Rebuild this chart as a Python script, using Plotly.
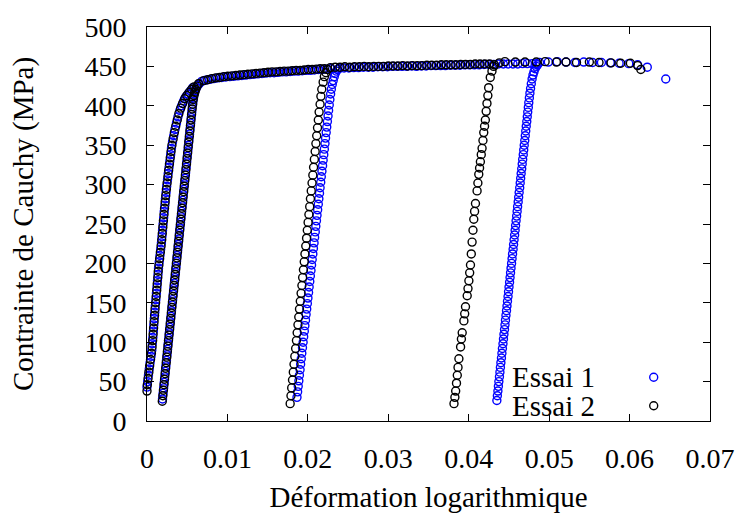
import plotly.graph_objects as go

# ---------------- Essai 1 (blue) : strain / stress pairs per branch ----------------
e1_load_strain = [0.00000, 0.00008, 0.00018, 0.00028, 0.00038, 0.00050, 0.00060, 0.00066, 0.00073, 0.00079,
                  0.00085, 0.00091, 0.00097, 0.00103, 0.00110, 0.00117, 0.00124, 0.00130, 0.00137, 0.00143,
                  0.00152, 0.00161, 0.00170, 0.00179, 0.00186, 0.00193, 0.00200, 0.00207, 0.00214, 0.00222,
                  0.00229, 0.00237, 0.00245, 0.00255, 0.00264, 0.00274, 0.00284, 0.00294, 0.00304, 0.00317,
                  0.00332, 0.00348, 0.00366, 0.00385, 0.00408, 0.00430, 0.00455, 0.00480, 0.00509, 0.00540,
                  0.00570]
e1_load_stress = [43, 50, 58, 66, 74, 82, 90, 98, 106, 114,
                  122, 130, 138, 146, 154, 162, 170, 178, 186, 194,
                  202, 210, 218, 226, 234, 242, 250, 258, 266, 274,
                  282, 290, 298, 306, 314, 322, 330, 338, 346, 354,
                  362, 370, 378, 386, 394, 400, 406, 411, 415, 419,
                  423]

e1_cyc1_strain = [0.00193, 0.00200, 0.00207, 0.00214, 0.00221, 0.00228, 0.00235, 0.00242, 0.00249, 0.00256,
                  0.00263, 0.00270, 0.00277, 0.00284, 0.00291, 0.00298, 0.00305, 0.00312, 0.00319, 0.00326,
                  0.00333, 0.00340, 0.00347, 0.00354, 0.00361, 0.00368, 0.00375, 0.00382, 0.00389, 0.00396,
                  0.00403, 0.00410, 0.00417, 0.00424, 0.00431, 0.00438, 0.00445, 0.00452, 0.00459, 0.00466,
                  0.00473, 0.00480, 0.00487, 0.00494, 0.00501, 0.00508, 0.00515, 0.00522, 0.00529, 0.00536,
                  0.00543, 0.00550, 0.00557, 0.00564, 0.00571, 0.00578, 0.00588, 0.00600, 0.00615, 0.00632,
                  0.00650]
e1_cyc1_stress = [28, 35, 42, 49, 56, 63, 70, 77, 84, 91,
                  98, 105, 112, 119, 126, 133, 140, 147, 154, 161,
                  168, 175, 182, 189, 196, 203, 210, 217, 224, 231,
                  238, 245, 252, 259, 266, 273, 280, 287, 294, 301,
                  308, 315, 322, 329, 336, 343, 350, 357, 364, 371,
                  378, 385, 392, 399, 405, 410, 415, 419, 423, 426,
                  428]

e1_flow1_strain = [0.0068, 0.0073, 0.0078, 0.0083, 0.0088, 0.0093, 0.0098, 0.0103, 0.0108, 0.0113,
                   0.0118, 0.0123, 0.0128, 0.0133, 0.0138, 0.0143, 0.0148, 0.0153, 0.0158, 0.0163,
                   0.0168, 0.0173, 0.0178, 0.0183, 0.0188, 0.0193, 0.0198, 0.0203, 0.0208, 0.0213,
                   0.0218, 0.0223, 0.0228]
e1_flow1_stress = [431, 432.5, 433.5, 434.5, 435.5, 436, 436.5, 437, 437.5, 438,
                   438.5, 439, 439.5, 440, 440.5, 441, 441.5, 442, 442, 442.5,
                   443, 443, 443.5, 444, 444, 444.5, 445, 445, 445.5, 446,
                   446, 446.5, 447]

e1_cyc2_strain = [0.01865, 0.01873, 0.01880, 0.01888, 0.01895, 0.01903, 0.01910, 0.01918, 0.01925, 0.01933,
                  0.01941, 0.01948, 0.01956, 0.01963, 0.01971, 0.01978, 0.01986, 0.01994, 0.02001, 0.02009,
                  0.02016, 0.02024, 0.02031, 0.02039, 0.02046, 0.02054, 0.02062, 0.02069, 0.02077, 0.02084,
                  0.02092, 0.02099, 0.02107, 0.02114, 0.02122, 0.02130, 0.02137, 0.02145, 0.02152, 0.02160,
                  0.02167, 0.02175, 0.02183, 0.02190, 0.02198, 0.02205, 0.02213, 0.02220, 0.02228, 0.02235,
                  0.02243, 0.02251, 0.02258, 0.02266, 0.02274, 0.02283, 0.02292, 0.02303, 0.02315, 0.02328,
                  0.02340, 0.02355, 0.02370]
e1_cyc2_stress = [30, 37, 44, 51, 58, 65, 72, 79, 86, 93,
                  100, 107, 114, 121, 128, 135, 142, 149, 156, 163,
                  170, 177, 184, 191, 198, 205, 212, 219, 226, 233,
                  240, 247, 254, 261, 268, 275, 282, 289, 296, 303,
                  310, 317, 324, 331, 338, 345, 352, 359, 366, 373,
                  380, 387, 394, 401, 408, 415, 421, 427, 432, 437,
                  441, 444, 446]

e1_flow2_strain = [0.0239, 0.0245, 0.0251, 0.0257, 0.0263, 0.0269, 0.0275, 0.0281, 0.0287, 0.0293,
                   0.0299, 0.0305, 0.0311, 0.0317, 0.0323, 0.0329, 0.0335, 0.0341, 0.0347, 0.0353,
                   0.0359, 0.0365, 0.0371, 0.0377, 0.0383, 0.0389, 0.0395, 0.0401, 0.0407, 0.0413,
                   0.0419, 0.0425, 0.0431, 0.0437, 0.0443, 0.0449, 0.0455, 0.0461, 0.0467, 0.0473,
                   0.0479, 0.0484]
e1_flow2_stress = [447.5, 448, 448, 448.5, 448.5, 449, 449, 449, 449.5, 449.5,
                   449.5, 450, 450, 450, 450, 450.5, 450, 450.5, 450.5, 451,
                   451, 451, 451, 451.5, 451.5, 451.5, 452, 452, 452, 452,
                   452.5, 452.5, 452.5, 453, 453, 453, 453, 453, 453.5, 453.5,
                   453.5, 453.5]

e1_cyc3_strain = [0.04350, 0.04356, 0.04363, 0.04369, 0.04375, 0.04382, 0.04388, 0.04394, 0.04400, 0.04407,
                  0.04413, 0.04419, 0.04426, 0.04432, 0.04438, 0.04445, 0.04451, 0.04457, 0.04463, 0.04470,
                  0.04476, 0.04482, 0.04489, 0.04495, 0.04501, 0.04508, 0.04514, 0.04520, 0.04526, 0.04533,
                  0.04539, 0.04545, 0.04552, 0.04558, 0.04564, 0.04571, 0.04577, 0.04583, 0.04589, 0.04596,
                  0.04602, 0.04608, 0.04615, 0.04621, 0.04627, 0.04634, 0.04640, 0.04646, 0.04652, 0.04659,
                  0.04665, 0.04671, 0.04678, 0.04684, 0.04690, 0.04697, 0.04703, 0.04709, 0.04715, 0.04722,
                  0.04728, 0.04734, 0.04741, 0.04747, 0.04754, 0.04761, 0.04769, 0.04778, 0.04788, 0.04799,
                  0.04811, 0.04825, 0.04840, 0.04856]
e1_cyc3_stress = [26, 32, 38, 44, 50, 56, 62, 68, 74, 80,
                  86, 92, 98, 104, 110, 116, 122, 128, 134, 140,
                  146, 152, 158, 164, 170, 176, 182, 188, 194, 200,
                  206, 212, 218, 224, 230, 236, 242, 248, 254, 260,
                  266, 272, 278, 284, 290, 296, 302, 308, 314, 320,
                  326, 332, 338, 344, 350, 356, 362, 368, 374, 380,
                  386, 392, 398, 404, 410, 416, 422, 428, 434, 439,
                  443, 447, 450, 452]

e1_flow3_strain = [0.0488, 0.0499, 0.0510, 0.0521, 0.0532, 0.0543, 0.0554, 0.0565, 0.0576, 0.0587,
                   0.0599, 0.0610, 0.0622, 0.0645]
e1_flow3_stress = [455, 455.5, 456, 455.5, 455, 455.5, 455, 455, 454.5, 454,
                   453.5, 452, 449, 434]

# ---------------- Essai 2 (black) ----------------
e2_load_strain = [0.00000, 0.00004, 0.00013, 0.00023, 0.00033, 0.00044, 0.00055, 0.00063, 0.00070, 0.00076,
                  0.00082, 0.00088, 0.00094, 0.00100, 0.00107, 0.00114, 0.00121, 0.00127, 0.00134, 0.00140,
                  0.00148, 0.00157, 0.00166, 0.00175, 0.00183, 0.00190, 0.00197, 0.00204, 0.00211, 0.00218,
                  0.00226, 0.00233, 0.00241, 0.00250, 0.00260, 0.00269, 0.00279, 0.00289, 0.00299, 0.00310,
                  0.00325, 0.00340, 0.00357, 0.00376, 0.00396, 0.00419, 0.00443, 0.00468, 0.00495, 0.00525,
                  0.00555, 0.00585]
e2_load_stress = [38, 46, 54, 62, 70, 78, 86, 94, 102, 110,
                  118, 126, 134, 142, 150, 158, 166, 174, 182, 190,
                  198, 206, 214, 222, 230, 238, 246, 254, 262, 270,
                  278, 286, 294, 302, 310, 318, 326, 334, 342, 350,
                  358, 366, 374, 382, 390, 397, 403, 409, 413, 417,
                  421, 424]

e2_cyc1_strain = [0.00190, 0.00197, 0.00204, 0.00211, 0.00218, 0.00225, 0.00232, 0.00239, 0.00246, 0.00253,
                  0.00260, 0.00267, 0.00274, 0.00281, 0.00288, 0.00295, 0.00302, 0.00309, 0.00316, 0.00323,
                  0.00330, 0.00337, 0.00344, 0.00351, 0.00358, 0.00365, 0.00372, 0.00379, 0.00386, 0.00393,
                  0.00400, 0.00407, 0.00414, 0.00421, 0.00428, 0.00435, 0.00442, 0.00449, 0.00456, 0.00463,
                  0.00470, 0.00477, 0.00484, 0.00491, 0.00498, 0.00505, 0.00512, 0.00519, 0.00526, 0.00533,
                  0.00540, 0.00547, 0.00554, 0.00561, 0.00568, 0.00575, 0.00584, 0.00594, 0.00607, 0.00622,
                  0.00640]
e2_cyc1_stress = [25, 32, 39, 46, 53, 60, 67, 74, 81, 88,
                  95, 102, 109, 116, 123, 130, 137, 144, 151, 158,
                  165, 172, 179, 186, 193, 200, 207, 214, 221, 228,
                  235, 242, 249, 256, 263, 270, 277, 284, 291, 298,
                  305, 312, 319, 326, 333, 340, 347, 354, 361, 368,
                  375, 382, 389, 396, 402, 408, 413, 417, 421, 425,
                  428]

e2_flow1_strain = [0.00705, 0.00755, 0.00805, 0.00855, 0.00905, 0.00955, 0.01005, 0.01055, 0.01105, 0.01155,
                   0.01205, 0.01255, 0.01305, 0.01355, 0.01405, 0.01455, 0.01505, 0.01555, 0.01605, 0.01655,
                   0.01705, 0.01755, 0.01805, 0.01855, 0.01905, 0.01955, 0.02005, 0.02055, 0.02105, 0.02155,
                   0.02205]
e2_flow1_stress = [432, 433, 434.5, 435.5, 436, 437, 437.5, 438, 438.5, 439,
                   439.5, 440, 440.5, 441, 441.5, 442, 442.5, 443, 443, 443.5,
                   444, 444, 444.5, 445, 445, 445.5, 446, 446, 446.5, 447,
                   447]

e2_cyc2_strain = [0.01780, 0.01790, 0.01799, 0.01809, 0.01819, 0.01828, 0.01838, 0.01848, 0.01858, 0.01867,
                  0.01877, 0.01887, 0.01896, 0.01906, 0.01916, 0.01926, 0.01935, 0.01945, 0.01955, 0.01964,
                  0.01974, 0.01984, 0.01993, 0.02003, 0.02013, 0.02023, 0.02032, 0.02042, 0.02052, 0.02062,
                  0.02071, 0.02081, 0.02091, 0.02100, 0.02110, 0.02120, 0.02130, 0.02140, 0.02152, 0.02162,
                  0.02173, 0.02190, 0.02205, 0.02225, 0.02245]
e2_cyc2_stress = [22, 32, 42, 52, 62, 72, 82, 92, 102, 112,
                  122, 132, 142, 152, 162, 172, 182, 192, 202, 212,
                  222, 232, 242, 252, 262, 272, 282, 292, 302, 312,
                  322, 332, 342, 352, 362, 372, 382, 392, 402, 412,
                  421, 430, 437, 442, 446]

e2_flow2_strain = [0.0228, 0.0234, 0.0240, 0.0246, 0.0252, 0.0258, 0.0264, 0.0270, 0.0276, 0.0282,
                   0.0288, 0.0294, 0.0300, 0.0306, 0.0312, 0.0318, 0.0324, 0.0330, 0.0336, 0.0342,
                   0.0348, 0.0354, 0.0360, 0.0366, 0.0372, 0.0378, 0.0384, 0.0390, 0.0396, 0.0402,
                   0.0408, 0.0414, 0.0420, 0.0426]
e2_flow2_stress = [448.5, 449, 449, 449.5, 449, 449.5, 449.5, 450, 449.5, 450,
                   450, 450, 450.5, 450.5, 450.5, 451, 450.5, 451, 451, 451,
                   451.5, 451.5, 451.5, 452, 452, 452, 452, 452.5, 452.5, 452.5,
                   453, 453, 453, 453]

e2_cyc3_strain = [0.03817, 0.03828, 0.03838, 0.03848, 0.03858, 0.03867, 0.03878, 0.03899, 0.03909, 0.03919,
                  0.03940, 0.03950, 0.03960, 0.03981, 0.03991, 0.04002, 0.04012, 0.04022, 0.04032, 0.04042,
                  0.04053, 0.04063, 0.04073, 0.04084, 0.04104, 0.04114, 0.04125, 0.04135, 0.04145, 0.04156,
                  0.04166, 0.04177, 0.04187, 0.04197, 0.04207, 0.04217, 0.04227, 0.04238, 0.04248, 0.04268,
                  0.04289, 0.04310]
e2_cyc3_stress = [22, 30, 38, 48, 58, 68, 79, 94, 104, 112,
                  127, 136, 145, 159, 168, 178, 188, 198, 212, 227,
                  242, 256, 266, 276, 292, 302, 313, 321, 329, 338,
                  346, 356, 366, 374, 382, 393, 403, 413, 423, 436,
                  444, 450]

e2_flow3_strain = [0.0432, 0.0438, 0.0445, 0.0458, 0.0470, 0.0484, 0.0495, 0.0509, 0.0521, 0.0534,
                   0.0550, 0.0562, 0.0577, 0.0589, 0.0601, 0.0610, 0.0614]
e2_flow3_stress = [452, 454.5, 456, 455.5, 455.5, 455.5, 456, 455.5, 455.5, 455,
                   455.5, 455, 454.5, 454, 454, 451, 446]

essai1_strain = (e1_load_strain + e1_cyc1_strain + e1_flow1_strain + e1_cyc2_strain
                 + e1_flow2_strain + e1_cyc3_strain + e1_flow3_strain)
essai1_stress = (e1_load_stress + e1_cyc1_stress + e1_flow1_stress + e1_cyc2_stress
                 + e1_flow2_stress + e1_cyc3_stress + e1_flow3_stress)
essai2_strain = (e2_load_strain + e2_cyc1_strain + e2_flow1_strain + e2_cyc2_strain
                 + e2_flow2_strain + e2_cyc3_strain + e2_flow3_strain)
essai2_stress = (e2_load_stress + e2_cyc1_stress + e2_flow1_stress + e2_cyc2_stress
                 + e2_flow2_stress + e2_cyc3_stress + e2_flow3_stress)

series_names = ["Essai 1", "Essai 2"]
series_colors = ["#0000ff", "#000000"]

x_ticks = [0, 0.01, 0.02, 0.03, 0.04, 0.05, 0.06, 0.07]
x_ticktext = ["0", "0.01", "0.02", "0.03", "0.04", "0.05", "0.06", "0.07"]
y_ticks = [0, 50, 100, 150, 200, 250, 300, 350, 400, 450, 500]

FONT = "'Liberation Serif', 'Times New Roman', Times, 'Nimbus Roman', 'DejaVu Serif', serif"
MARKER_SIZE = 8
MARKER_LW = 1.4

fig = go.Figure()
for name, color, xs, ys in zip(series_names, series_colors,
                               [essai1_strain, essai2_strain],
                               [essai1_stress, essai2_stress]):
    fig.add_trace(go.Scatter(
        x=xs, y=ys, mode="markers", name=name, cliponaxis=False,
        marker=dict(symbol="circle-open", size=MARKER_SIZE, color=color,
                    line=dict(width=MARKER_LW, color=color)),
        showlegend=False,
    ))

# key: text right-aligned, sample marker to its right
key_y = [0.111, 0.0386]
fig.add_trace(go.Scatter(
    x=[0.9, 0.9], y=key_y, xaxis="x2", yaxis="y2", mode="markers",
    marker=dict(symbol="circle-open", size=MARKER_SIZE, color=series_colors,
                line=dict(width=MARKER_LW, color=series_colors)),
    showlegend=False, hoverinfo="skip",
))
for name, ky in zip(series_names, key_y):
    fig.add_annotation(x=0.8, y=ky, xref="paper", yref="paper", text=name, showarrow=False,
                       xanchor="right", yanchor="middle", font=dict(family=FONT, size=29, color="black"))

axis_common = dict(showline=True, linecolor="black", linewidth=1, mirror="ticks", ticks="inside",
                   ticklen=7, tickcolor="black", tickwidth=1, showgrid=False, zeroline=False,
                   tickfont=dict(family=FONT, size=28, color="black"))

fig.update_layout(
    width=747, height=520,
    margin=dict(l=147, r=32, t=21, b=92),
    plot_bgcolor="white", paper_bgcolor="white",
    font=dict(family=FONT, size=28, color="black"),
    showlegend=False,
    xaxis=dict(range=[0, 0.07], tickvals=x_ticks, ticktext=x_ticktext, ticklabelstandoff=12,
               title=dict(text="Déformation logarithmique", font=dict(family=FONT, size=29), standoff=14),
               **axis_common),
    yaxis=dict(range=[0, 500], tickvals=y_ticks, ticklabelstandoff=14,
               title=dict(text="Contrainte de Cauchy (MPa)", font=dict(family=FONT, size=29), standoff=42),
               **axis_common),
    xaxis2=dict(range=[0, 1], overlaying="x", visible=False, domain=[0, 1]),
    yaxis2=dict(range=[0, 1], overlaying="y", visible=False),
)

fig.write_html("out.html")
